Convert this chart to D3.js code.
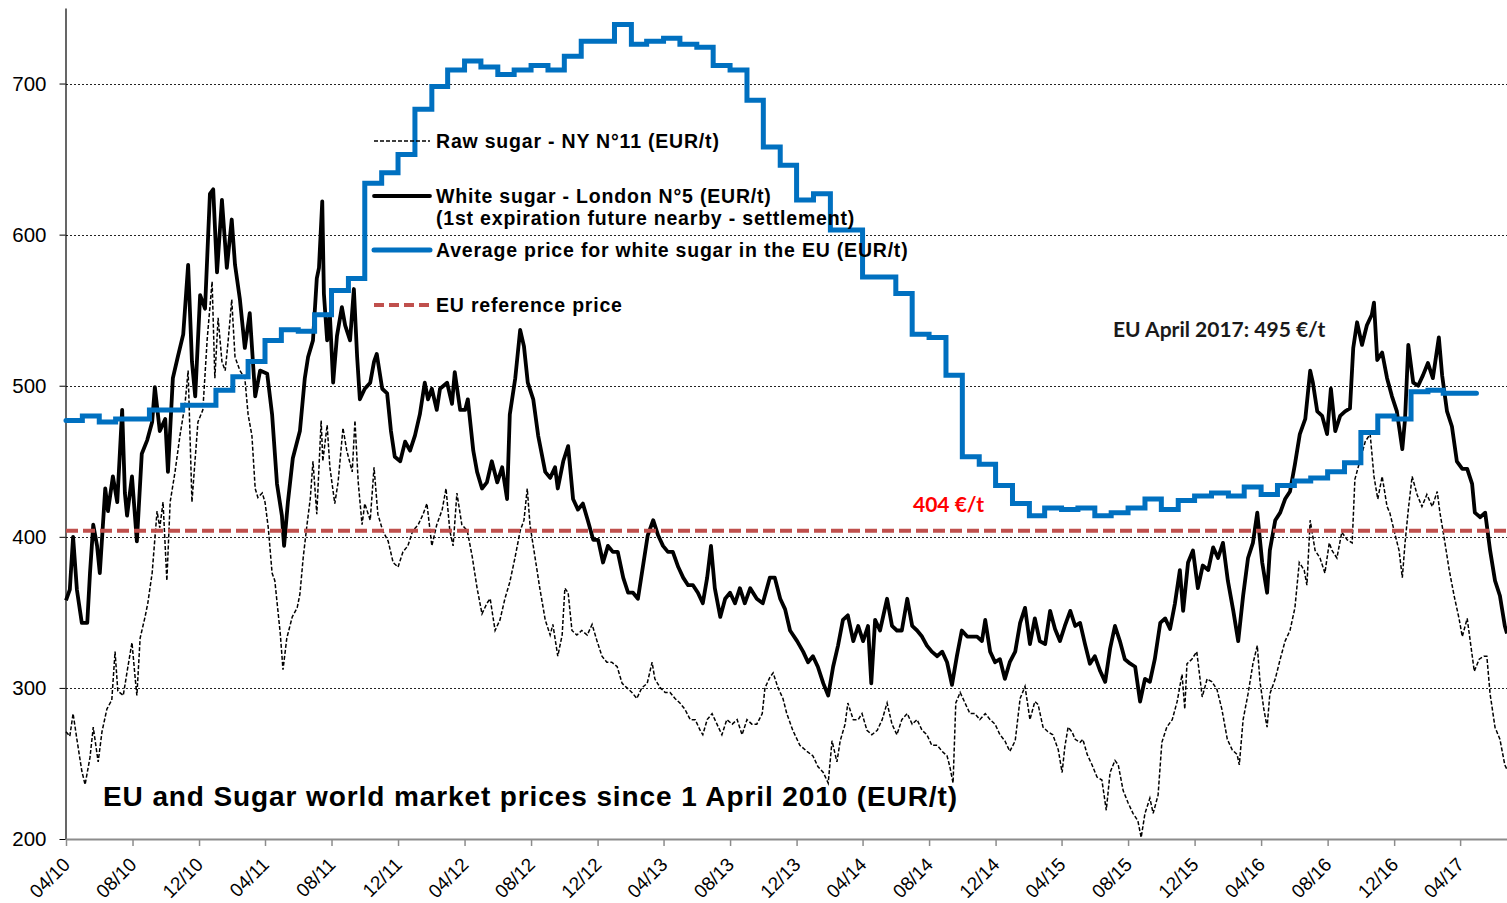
<!DOCTYPE html>
<html lang="en">

<head>
    <meta charset="UTF-8">
    <title>EU and Sugar world market prices</title>
    <script src="https://d3js.org/d3.v7.min.js"></script>
    <style>
        body { margin: 0; background: #fff; }
        svg { display: block; font-family: "Liberation Sans", Arial, sans-serif; }
    </style>
</head>

<body>
    <div id="chart"></div>
    <script>
        // Time span of the chart
        const startDate = "2010-04-01";
        const endDate = "2017-06-26";

        // Tick labels (every 4 months) and y ticks
        const tickMonths = [
            "2010-04-01", "2010-08-01", "2010-12-01", "2011-04-01", "2011-08-01", "2011-12-01",
            "2012-04-01", "2012-08-01", "2012-12-01", "2013-04-01", "2013-08-01", "2013-12-01",
            "2014-04-01", "2014-08-01", "2014-12-01", "2015-04-01", "2015-08-01", "2015-12-01",
            "2016-04-01", "2016-08-01", "2016-12-01", "2017-04-01"
        ];
        const yTicks = [200, 300, 400, 500, 600, 700];

        // Average price for white sugar in the EU, monthly from April 2010 to April 2017 (EUR/t)
        const euStart = "2010-04-01";
        const euAverage = [
            477, 480, 476, 478, 478, 484, 484, 487, 487,
            497, 506, 516, 530, 537, 536, 547, 563, 571, 634, 641, 653,
            683, 698, 709, 715, 711, 706, 709, 712, 709, 718, 728, 728,
            739, 726, 728, 730, 726, 724, 712, 709, 689, 658, 646, 623,
            627, 603, 603, 572, 572, 561, 534, 532, 507, 453, 448, 434,
            422, 414, 419, 418, 419, 414, 416, 419, 425, 418, 424, 427,
            429, 427, 433, 428, 434, 437, 439, 443, 449, 469, 480, 478,
            496, 497, 495, 495
        ];

        // EU reference price (EUR/t)
        const referencePrice = 404;

        // White sugar London N°5: [days since 1 April 2010, EUR/t]
        const whiteSugar = [
            [0,358],[7,365],[13,400],[20,365],[29,343],[39,343],[44,376],[50,408],[57,394],[62,376],[72,432],[77,417],
            [86,440],[94,423],[103,484],[108,429],[112,414],[121,440],[130,397],[139,455],[149,464],[158,476],[163,499],
            [172,470],[182,478],[187,443],[196,505],[205,519],[215,534],[224,580],[231,516],[237,493],[246,560],[255,551],
            [264,627],[270,630],[277,575],[286,623],[295,578],[304,610],[310,580],[319,557],[328,525],[337,548],[347,493],
            [356,510],[369,508],[378,481],[387,435],[396,414],[400,394],[407,423],[416,452],
            [429,470],[438,505],[444,519],[453,530],[460,571],[464,578],[470,622],[473,561],[479,530],[484,547],[490,502],
            [497,533],[506,552],[512,540],[521,530],[528,564],[534,519],[539,491],[548,498],[558,502],[565,516],[570,521],
            [580,498],[589,495],[596,470],[603,453],[613,450],[622,463],[631,457],[640,467],[649,481],[658,502],[664,491],
            [671,498],[680,484],[686,498],[699,502],[708,488],[713,509],[723,484],[732,484],[737,491],[747,457],[754,443],
            [763,432],[772,436],[781,450],[791,436],[800,446],[809,425],[814,481],[824,505],[833,537],[840,526],[847,502],
            [857,491],[866,467],
            [879,443],[888,439],[897,446],[902,432],[912,450],[921,460],[930,425],[939,418],[948,422],[957,411],[967,398],
            [976,398],[985,383],[994,394],[1003,390],[1012,390],[1022,373],[1031,363],[1040,363],[1049,359],[1058,380],
            [1067,401],[1077,411],[1086,401],[1095,394],[1104,390],[1113,390],[1123,380],[1132,373],[1141,368],[1150,368],
            [1159,363],[1168,356],[1176,373],[1183,394],[1190,366],[1200,347],[1209,359],[1218,363],[1227,356],[1236,366],
            [1245,356],[1255,366],[1267,359],[1278,356],[1291,373],[1300,373],
            [1310,359],[1319,352],[1328,338],[1341,331],[1352,324],[1361,317],[1370,321],[1379,314],[1389,303],[1398,295],
            [1407,314],[1416,328],[1425,345],[1434,348],[1444,331],[1453,341],[1462,331],[1471,341],[1477,303],[1484,345],
            [1493,338],[1506,359],[1515,341],[1524,338],[1533,338],[1543,359],[1552,341],[1561,338],[1570,334],[1579,328],
            [1588,324],[1598,321],[1607,324],[1616,317],[1625,302],[1634,321],[1643,338],[1653,334],[1662,334],[1671,334],
            [1680,331],[1686,345],[1695,324],[1704,317],[1713,319],[1722,306],[1731,317],[1741,324],
            [1750,343],[1759,353],[1768,329],[1777,346],[1786,331],[1796,329],[1805,351],[1814,339],[1823,331],[1832,341],
            [1842,351],[1851,341],[1860,343],[1869,329],[1878,316],[1887,321],[1897,311],[1906,304],[1915,326],[1924,341],
            [1933,331],[1942,319],[1952,316],[1961,314],[1970,291],[1979,306],[1988,304],[1997,319],[2007,343],[2016,346],
            [2025,339],[2034,356],[2043,378],[2049,351],[2058,383],[2067,391],[2076,366],[2085,381],[2095,378],[2104,393],
            [2113,386],[2122,396],[2131,371],[2141,351],[2150,331],[2159,361],[2168,386],[2177,396],
            [2185,416],[2194,383],[2203,363],[2208,391],[2218,411],[2227,416],[2236,425],[2245,430],[2254,448],[2263,468],
            [2273,478],[2282,510],[2287,502],[2295,483],[2304,480],[2313,468],[2320,498],[2328,470],[2337,480],[2346,483],
            [2355,485],[2361,525],[2368,542],[2377,527],[2386,540],[2395,547],[2399,555],[2405,517],[2414,522],[2423,505],
            [2432,493],[2441,483],[2451,458],[2456,478],[2462,527],[2471,502],[2480,500],[2489,507],[2498,515],[2507,505],
            [2518,532],[2524,507],[2533,483],[2542,473],[2551,450],[2561,445],[2570,445],[2579,435],[2584,416],[2594,413],
            [2603,416],[2612,391],[2621,371],[2630,361],[2639,341],[2643,336]
        ];

        // Raw sugar NY N°11: [days since 1 April 2010, EUR/t]
        const rawSugar = [
            [0,271],[7,268],[13,283],[20,266],[29,245],[35,236],[44,254],[50,274],[59,251],[66,271],[75,286],[84,292],
            [90,324],[95,298],[105,295],[114,315],[121,330],[127,306],[130,295],[136,333],[145,347],[150,356],[158,376],
            [167,417],[172,406],[178,423],[185,371],[191,423],[200,443],[209,467],[218,487],[224,510],[231,423],[237,452],
            [242,476],[251,484],[259,531],[268,569],[273,505],[279,545],[286,516],[292,510],[297,528],[304,557],[310,519],
            [319,510],[328,505],[334,481],[341,467],[347,432],[352,426],[360,429],[365,423],[371,406],[378,376],[383,371],
            [393,336],[398,312],[405,333],[415,347],[424,353],
            [429,362],[435,386],[442,408],[448,425],[453,450],[460,415],[468,477],[471,450],[479,474],[484,446],[493,422],
            [499,436],[508,472],[515,457],[525,443],[530,477],[536,436],[543,408],[548,422],[558,411],[565,446],[572,415],
            [581,404],[591,397],[600,383],[609,380],[618,390],[627,394],[636,404],[646,408],[655,415],[662,422],[671,394],
            [680,408],[690,418],[697,432],[704,404],[710,394],[717,429],[726,408],[736,404],[745,387],[754,366],[763,349],
            [772,356],[778,359],[787,338],[796,345],[805,359],[814,370],[824,387],[833,404],[840,411],[846,432],[851,408],
            [860,387],[869,366],
            [879,345],[888,335],[893,342],[902,321],[910,335],[915,366],[921,363],[928,338],[937,335],[946,338],[956,335],
            [965,342],[974,331],[983,321],[992,317],[1001,317],[1011,314],[1020,303],[1029,300],[1038,297],[1047,293],
            [1056,300],[1066,303],[1075,317],[1080,306],[1090,300],[1099,297],[1108,297],[1117,293],[1126,290],[1135,286],
            [1145,279],[1154,279],[1163,272],[1168,269],[1176,279],[1185,283],[1194,276],[1203,269],[1212,279],[1222,276],
            [1231,279],[1240,269],[1249,279],[1258,276],[1267,276],[1277,283],[1282,300],[1291,307],[1297,310],[1306,300],
            [1315,293],[1322,283],[1333,272],[1346,262],[1359,258],[1370,255],[1379,248],[1389,244],[1398,237],[1405,265],
            [1414,251],[1420,265],[1429,276],[1434,290],[1444,279],[1453,279],[1460,283],[1469,272],[1478,269],[1488,272],
            [1497,279],[1506,290],[1515,276],[1524,269],[1533,279],[1543,283],[1552,276],[1561,279],[1570,272],[1579,269],
            [1588,262],[1598,262],[1607,258],[1616,255],[1621,248],[1627,237],[1632,290],[1640,297],[1649,290],[1658,283],
            [1667,283],[1676,279],[1686,283],[1695,279],[1704,276],[1713,269],[1722,265],[1731,258],[1741,265],
            [1750,293],[1759,301],[1768,279],[1777,291],[1783,289],[1792,274],[1801,271],[1810,269],[1820,259],[1827,244],
            [1832,261],[1838,274],[1845,271],[1851,266],[1860,264],[1865,266],[1873,256],[1882,249],[1891,241],[1900,239],
            [1908,219],[1915,244],[1924,252],[1930,249],[1939,232],[1948,224],[1957,217],[1966,212],[1972,201],[1979,217],
            [1988,227],[1994,217],[2003,229],[2010,264],[2019,274],[2029,279],[2038,291],[2047,309],[2052,286],[2056,316],
            [2065,319],[2074,324],[2084,294],[2093,306],[2102,304],[2111,299],[2120,286],[2130,266],[2139,259],[2148,256],
            [2152,249],[2159,279],[2168,296],[2177,316],
            [2185,328],[2190,304],[2197,286],[2203,274],[2208,296],[2218,306],[2227,319],[2236,331],[2245,338],[2254,353],
            [2262,383],[2271,378],[2276,368],[2282,411],[2291,391],[2300,386],[2309,376],[2317,396],[2322,391],[2331,386],
            [2340,403],[2350,398],[2359,396],[2364,438],[2373,450],[2383,463],[2392,468],[2399,440],[2406,425],[2414,440],
            [2423,420],[2428,416],[2438,401],[2445,391],[2451,373],[2456,396],[2462,418],[2469,440],[2478,428],[2487,420],
            [2496,428],[2506,420],[2515,430],[2520,416],[2527,401],[2537,378],[2546,361],[2555,346],[2561,334],[2570,346],
            [2583,311],[2592,319],[2601,321],[2606,321],[2612,296],[2621,274],[2630,266],[2639,249],[2643,246]
        ];

        // Legend entries
        const legendItems = [
            { lines: ["Raw sugar - NY N°11 (EUR/t)"], color: "#000", width: 1.5, dash: "4,2" },
            { lines: ["White sugar - London N°5 (EUR/t)", "(1st expiration future nearby - settlement)"], color: "#000", width: 3.8, dash: null },
            { lines: ["Average price for white sugar in the EU (EUR/t)"], color: "#0070c0", width: 5, dash: null },
            { lines: ["EU reference price"], color: "#c0504d", width: 4, dash: "10,5" }
        ];
        const legendRowY = [141, 196, 250, 305];

        // Chart dimensions
        const width = 1507;
        const height = 903;
        const margin = { top: 8, right: 0, bottom: 64, left: 66 };

        const parseDate = d3.timeParse("%Y-%m-%d");
        const start = parseDate(startDate);
        const toDate = d => d3.timeDay.offset(start, d);

        const svg = d3.select("#chart")
            .append("svg")
            .attr("width", width)
            .attr("height", height);

        // Scales
        const x = d3.scaleTime()
            .domain([start, parseDate(endDate)])
            .range([margin.left, width - margin.right]);

        const y = d3.scaleLinear()
            .domain([200, 750])
            .range([height - margin.bottom, margin.top]);

        const crisp = v => Math.round(v) + 0.5;

        // Gridlines
        svg.append("g")
            .selectAll("line")
            .data(yTicks.filter(d => d > 200))
            .join("line")
            .attr("x1", margin.left)
            .attr("x2", width - margin.right)
            .attr("y1", d => crisp(y(d)))
            .attr("y2", d => crisp(y(d)))
            .attr("stroke", "#222")
            .attr("stroke-width", 1)
            .attr("stroke-dasharray", "2,2");

        // Y axis
        const yAxis = svg.append("g")
            .attr("transform", `translate(${margin.left - 0.5},0)`)
            .call(d3.axisLeft(y).tickValues(yTicks).tickSize(6).tickSizeOuter(0).tickPadding(13));
        yAxis.select(".domain").attr("stroke", "#000").attr("stroke-width", 1.2);
        yAxis.selectAll(".tick line").attr("stroke", "#000");
        yAxis.selectAll(".tick text")
            .attr("font-size", 20.5)
            .attr("font-family", "Liberation Sans, Arial, sans-serif")
            .attr("fill", "#000");

        // X axis
        const xAxis = svg.append("g")
            .attr("transform", `translate(0,${height - margin.bottom})`)
            .call(d3.axisBottom(x)
                .tickValues(tickMonths.map(parseDate))
                .tickFormat(d3.timeFormat("%m/%y"))
                .tickSize(7)
                .tickSizeOuter(0));
        xAxis.select(".domain").attr("stroke", "#8c8c8c").attr("stroke-width", 2);
        xAxis.selectAll(".tick line").attr("stroke", "#8c8c8c").attr("stroke-width", 1.5);
        xAxis.selectAll(".tick text")
            .attr("font-size", 19)
            .attr("font-family", "Liberation Sans, Arial, sans-serif")
            .attr("fill", "#000")
            .attr("x", 0)
            .attr("y", 0)
            .attr("dy", "0.35em")
            .attr("text-anchor", "end")
            .attr("transform", "translate(0,22) rotate(-45)");

        // Series
        const dailyLine = d3.line()
            .x(d => x(toDate(d[0])))
            .y(d => y(d[1]));

        svg.append("path")
            .datum(rawSugar)
            .attr("fill", "none")
            .attr("stroke", "#000")
            .attr("stroke-width", 1.5)
            .attr("stroke-dasharray", "4,2")
            .attr("d", dailyLine);

        svg.append("path")
            .datum(whiteSugar)
            .attr("fill", "none")
            .attr("stroke", "#000")
            .attr("stroke-width", 3.8)
            .attr("stroke-linejoin", "round")
            .attr("d", dailyLine);

        const euFirst = parseDate(euStart);
        const euPoints = euAverage.map((v, i) => [d3.timeMonth.offset(euFirst, i), v]);
        euPoints.push([d3.timeMonth.offset(euFirst, euAverage.length), euAverage[euAverage.length - 1]]);

        svg.append("path")
            .datum(euPoints)
            .attr("fill", "none")
            .attr("stroke", "#0070c0")
            .attr("stroke-width", 5)
            .attr("stroke-linecap", "round")
            .attr("d", d3.line()
                .curve(d3.curveStepAfter)
                .x(d => x(d[0]))
                .y(d => y(d[1])));

        svg.append("line")
            .attr("x1", margin.left)
            .attr("x2", width - margin.right)
            .attr("y1", y(referencePrice))
            .attr("y2", y(referencePrice))
            .attr("stroke", "#c0504d")
            .attr("stroke-width", 4)
            .attr("stroke-dasharray", "12,5");

        // Legend
        const legend = svg.append("g");
        legendItems.forEach((item, i) => {
            const ly = legendRowY[i];
            legend.append("line")
                .attr("x1", 374)
                .attr("x2", 430)
                .attr("y1", ly)
                .attr("y2", ly)
                .attr("stroke", item.color)
                .attr("stroke-width", item.width)
                .attr("stroke-linecap", item.dash ? "butt" : "round")
                .attr("stroke-dasharray", item.dash);
            item.lines.forEach((t, j) => {
                legend.append("text")
                    .attr("x", 436)
                    .attr("y", ly + 7 + j * 22)
                    .attr("font-size", 19.5)
                    .attr("font-weight", 700)
                    .attr("letter-spacing", 0.8)
                    .attr("fill", "#000")
                    .text(t);
            });
        });

        // Annotations
        svg.append("text")
            .attr("x", 913)
            .attr("y", 512)
            .attr("font-family", "Lato, sans-serif")
            .attr("font-size", 21)
            .attr("font-weight", 700)
            .attr("fill", "#ff0000")
            .text(`${referencePrice} €/t`);

        svg.append("text")
            .attr("x", 1113)
            .attr("y", 337)
            .attr("font-family", "Lato, sans-serif")
            .attr("font-size", 21)
            .attr("font-weight", 700)
            .attr("fill", "#1a1a1a")
            .text(`EU April 2017: ${euAverage[euAverage.length - 1]} €/t`);

        // Title
        svg.append("text")
            .attr("x", 103)
            .attr("y", 806)
            .attr("font-size", 28)
            .attr("font-weight", 700)
            .attr("letter-spacing", 0.9)
            .attr("fill", "#000")
            .text("EU and Sugar world market prices since 1 April 2010 (EUR/t)");
    </script>
</body>

</html>
